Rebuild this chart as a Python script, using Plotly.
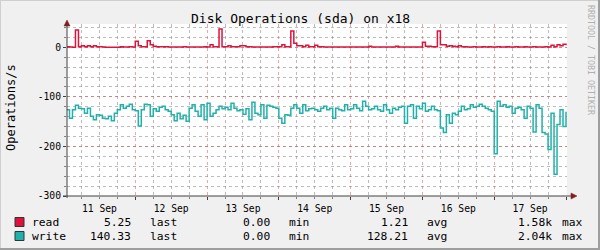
import pandas as pd
import plotly.graph_objects as go

# ---------------- data (hourly, Sep 11 01:00 .. Sep 18 00:00) ----------------
start_time = "2023-09-11 01:00"
n_points = 168

read_ops = [
    1, 0.5, 0.3, 35, 1, 3, 1, 3, 1, 3,
    1, 1, 0.5, 0.3, 0.3, 0.3, 0.3, 0.3, 1, 0.5,
    0.5, 1, 0.5, 12, 3, 1, 1, 13, 5, 2,
    1, 1, 1, 1, 0.5, 0.5, 0.5, 0.5, 0.5, 1,
    0.5, 0.5, 0.5, 0.5, 0.5, 0.5, 1, 0.5, 5, 1,
    1, 37, 1, 1, 3, 1, 1, 1, 3, 3,
    1, 1, 0.5, 0.5, 0.5, 0.5, 0.5, 0.5, 0.5, 1,
    1, 1, 5, 1, 1, 33, 8, 3, 3, 1,
    4, 1, 1, 4, 1, 1, 0.5, 0.5, 0.5, 0.5,
    0.5, 0.5, 0.5, 0.5, 0.5, 0.5, 0.5, 0.5, 0.5, 0.5,
    0.5, 2, 0.5, 0.5, 0.5, 0.5, 0.5, 0.5, 0.5, 0.5,
    2, 0.5, 0.5, 0.5, 0.5, 0.5, 0.5, 0.5, 0.5, 10,
    2, 2, 1, 1, 33, 5, 5, 2, 3, 2,
    1, 3, 1, 1, 0.5, 0.5, 1, 0.5, 0.5, 1,
    0.5, 1, 0.5, 0.5, 1, 0.5, 0.5, 1, 0.5, 0.5,
    1, 0.5, 0.5, 1, 0.5, 0.5, 1, 0.5, 0.5, 0.5,
    1, 0.5, 4, 1, 5, 3, 6, 4,
]

write_ops = [
    126, 143, 126, 117, 123, 124, 133, 123, 139, 146,
    136, 137, 143, 144, 139, 148, 133, 126, 116, 123,
    119, 115, 126, 128, 159, 126, 115, 116, 139, 124,
    129, 121, 119, 126, 129, 136, 148, 133, 144, 137,
    149, 123, 116, 129, 139, 116, 146, 113, 139, 133,
    126, 119, 124, 121, 126, 113, 123, 128, 126, 135,
    124, 146, 111, 133, 136, 116, 143, 117, 119, 121,
    123, 143, 153, 136, 137, 123, 116, 123, 133, 116,
    128, 124, 123, 126, 129, 123, 119, 126, 123, 143,
    123, 126, 128, 116, 126, 124, 116, 123, 128, 109,
    119, 126, 124, 119, 126, 129, 116, 126, 133, 123,
    126, 121, 119, 153, 119, 116, 143, 119, 124, 113,
    129, 126, 119, 126, 128, 163, 172, 136, 153, 133,
    136, 129, 119, 126, 124, 116, 121, 119, 115, 119,
    123, 126, 129, 215, 109, 119, 116, 121, 119, 133,
    123, 121, 126, 143, 119, 123, 171, 116, 123, 172,
    175, 206, 133, 256, 156, 126, 160, 130,
]

y_tick_vals = [0, -100, -200, -300]
y_tick_text = ["0", "-100", "-200", "-300"]

legend_rows = [
    # name, colour, last, min, avg, max
    ("read", "#DC143C", "5.25", "0.00", "1.21", "1.58k"),
    ("write", "#20B2AA", "140.33", "0.00", "128.21", "2.04k"),
]

title_text = "Disk Operations (sda) on x18"
y_label = "Operations/s"
watermark = "RRDTOOL / TOBI OETIKER"

# ---------------- figure ----------------
times = pd.date_range(start_time, periods=n_points, freq="h")
W, H = 600, 250
L, R, T, B = 67, 567, 24, 196
FONT = "DejaVu Sans Mono"


def px(x):
    return (x - L) / (R - L)


def py(y):
    return (B - y) / (B - T)


fig = go.Figure()
fig.add_trace(go.Scatter(x=times, y=read_ops, mode="lines",
                         line=dict(color="#DC143C", width=1.5, shape="hv"),
                         name="read", hoverinfo="skip"))
fig.add_trace(go.Scatter(x=times, y=[-v for v in write_ops], mode="lines",
                         line=dict(color="#20B2AA", width=1.5, shape="hv"),
                         name="write", hoverinfo="skip"))

minor_grid = "rgba(143,143,143,0.6)"
major_grid = "rgba(222,80,80,0.5)"

fig.update_layout(
    width=W, height=H,
    margin=dict(l=L, r=W - R, t=T, b=H - B, pad=0),
    paper_bgcolor="#F0F0F0",
    plot_bgcolor="#FFFFFF",
    showlegend=False,
    font=dict(family=FONT, color="#000000"),
    xaxis=dict(
        type="date",
        range=["2023-09-11 01:10", "2023-09-18 00:20"],
        tick0="2023-09-11", dtick=86400000,
        ticklabelmode="period", tickformat="%d %b",
        showgrid=True, gridcolor=major_grid, griddash="dot", gridwidth=1,
        ticks="outside", ticklen=3, tickcolor="#404040",
        minor=dict(dtick=6 * 3600000, tick0="2023-09-11", showgrid=True,
                   gridcolor=minor_grid, griddash="dot", ticks="outside",
                   ticklen=2, tickcolor="#808080"),
        tickfont=dict(size=9.7, family=FONT, color="#000"),
        showline=False, zeroline=False, fixedrange=True,
    ),
    yaxis=dict(
        range=[-300, 47],
        tickmode="array", tickvals=y_tick_vals, ticktext=y_tick_text,
        showgrid=True, gridcolor=major_grid, griddash="dot", gridwidth=1,
        ticks="outside", ticklen=3, tickcolor="#404040",
        minor=dict(tickmode="linear", tick0=0, dtick=20, showgrid=True,
                   gridcolor=minor_grid, griddash="dot", ticks="outside",
                   ticklen=2, tickcolor="#808080"),
        tickfont=dict(size=9.7, family=FONT, color="#000"),
        showline=False, zeroline=False, fixedrange=True,
    ),
)

shapes = []
# frame (3D shading)
shapes.append(dict(type="rect", xref="paper", yref="paper",
                   x0=px(0), x1=px(W), y0=py(H - 2), y1=py(H),
                   fillcolor="#9E9E9E", line=dict(width=0), layer="above"))
shapes.append(dict(type="rect", xref="paper", yref="paper",
                   x0=px(W - 2), x1=px(W), y0=py(H), y1=py(0),
                   fillcolor="#9E9E9E", line=dict(width=0), layer="above"))
shapes.append(dict(type="rect", xref="paper", yref="paper",
                   x0=px(0), x1=px(W - 2), y0=py(1), y1=py(0),
                   fillcolor="#CFCFCF", line=dict(width=0), layer="above"))
shapes.append(dict(type="rect", xref="paper", yref="paper",
                   x0=px(0), x1=px(1), y0=py(H - 2), y1=py(0),
                   fillcolor="#CFCFCF", line=dict(width=0), layer="above"))
# axes
shapes.append(dict(type="line", xref="paper", yref="paper",
                   x0=0, x1=0, y0=py(B + 2), y1=py(T - 1),
                   line=dict(color="#404040", width=1), layer="above"))
shapes.append(dict(type="line", xref="paper", yref="paper",
                   x0=px(L - 4), x1=px(R + 5), y0=0, y1=0,
                   line=dict(color="#404040", width=1), layer="above"))
# arrows


def tri(points):
    d = "M " + " L ".join(f"{px(x):.5f},{py(y):.5f}" for x, y in points) + " Z"
    return dict(type="path", xref="paper", yref="paper", path=d,
                fillcolor="#7F1F1F", line=dict(color="#7F1F1F", width=0.5),
                layer="above")


shapes.append(tri([(L - 3, T + 2), (L + 3, T + 2), (L, T - 4)]))
shapes.append(tri([(R + 4, B - 3), (R + 4, B + 3), (R + 10, B)]))

annotations = []
annotations.append(dict(text=title_text, x=px(300), y=py(19), xref="paper", yref="paper",
                        showarrow=False, xanchor="center", yanchor="middle",
                        font=dict(size=13, family=FONT, color="#000")))
annotations.append(dict(text=y_label, x=px(11), y=py(108), xref="paper", yref="paper",
                        showarrow=False, xanchor="center", yanchor="middle", textangle=-90,
                        font=dict(size=12, family=FONT, color="#000")))
annotations.append(dict(text=watermark, x=px(591), y=py(60), xref="paper", yref="paper",
                        showarrow=False, xanchor="center", yanchor="middle", textangle=90,
                        font=dict(size=8.3, family=FONT, color="#B0B0B0")))

row_y = [222, 236]
for (name, col, last, mn, avg, mx), yy in zip(legend_rows, row_y):
    shapes.append(dict(type="rect", xref="paper", yref="paper",
                       x0=px(15), x1=px(24), y0=py(yy + 4.5), y1=py(yy - 4.5),
                       fillcolor=col, line=dict(color="#333333", width=1), layer="above"))
    items = [
        (name, 30, "left"),
        (last, 133, "right"), ("last", 148, "left"),
        (mn, 272, "right"), ("min", 287, "left"),
        (avg, 410, "right"), ("avg", 425, "left"),
        (mx, 554, "right"), ("max", 560, "left"),
    ]
    for txt, xx, anc in items:
        annotations.append(dict(text=txt, x=px(xx), y=py(yy), xref="paper", yref="paper",
                                showarrow=False, xanchor=anc, yanchor="middle",
                                font=dict(size=11.3, family=FONT, color="#000")))

fig.update_layout(shapes=shapes, annotations=annotations)
fig.write_html("out.html")
